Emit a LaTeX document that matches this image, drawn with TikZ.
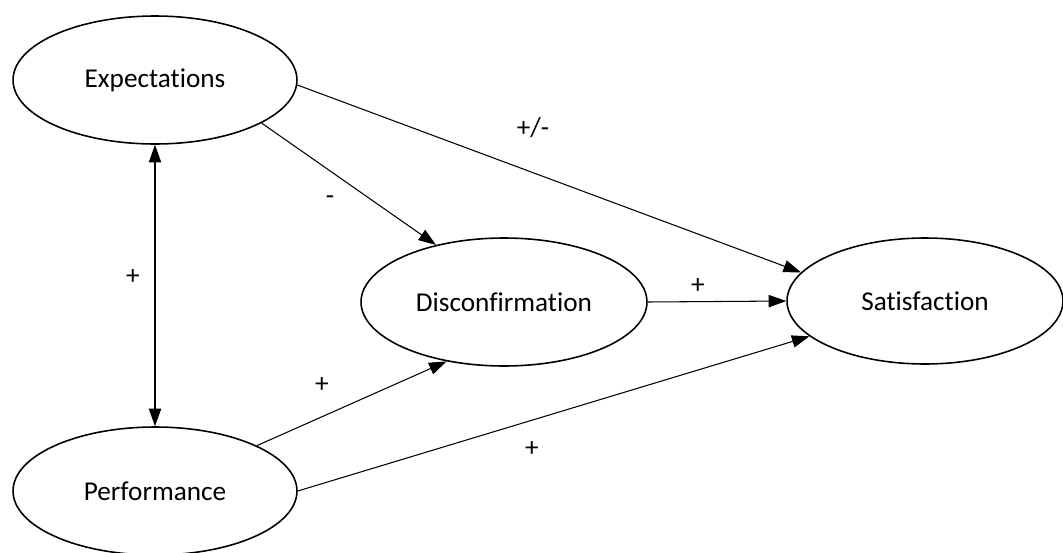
\documentclass[tikz,border=0pt]{standalone}
\usepackage{fontspec}
\setmainfont[Ligatures={NoCommon}]{Carlito}
\usetikzlibrary{arrows.meta, shapes.geometric, positioning}

\begin{document}
\begin{tikzpicture}[x=0.02cm, y=-0.02cm,
 construct/.style={ellipse,draw=black,line width=0.9pt,inner sep=0pt,
   minimum width=5.68cm,minimum height=2.56cm,font=\fontsize{15.5}{18}\selectfont},
 link/.style={line width=0.6pt,-{Triangle[length=10pt,width=7pt]}},
 sign/.style={font=\fontsize{15.5}{18}\selectfont,inner sep=1pt}]
 \useasboundingbox (0,0) rectangle (1063,552);
 % constructs
 \node[construct] (expect) at (155,80) {Expectations};
 \node[construct] (perform) at (155,491) {Performance};
 \node[construct,minimum width=5.72cm] (disconf) at (504,302) {Disconfirmation};
 \node[construct,minimum width=5.52cm,minimum height=2.52cm] (satisf) at (925,301) {Satisfaction};
 % paths
 \draw[link,{Triangle[length=10pt,width=7pt]}-{Triangle[length=10pt,width=7pt]}]
   (expect.south) -- (perform.north);
 \draw[link] (expect.-22) -- (disconf.140);
 \draw[link] (expect.-2) -- (satisf.167);
 \draw[link] (disconf.east) -- (satisf.west);
 \draw[link] (perform.24) -- (disconf.226);
 \draw[link] (perform.east) -- (satisf.197);
 % signs
 \node[sign] (s-ep) at (133,277) {+};
 \node[sign] (s-ed) at (330,200) {-};
 \node[sign] (s-es) at (533,128) {+/-};
 \node[sign] (s-ds) at (698,286) {+};
 \node[sign] (s-pd) at (322,385) {+};
 \node[sign] (s-ps) at (532,449) {+};
\end{tikzpicture}
\end{document}
